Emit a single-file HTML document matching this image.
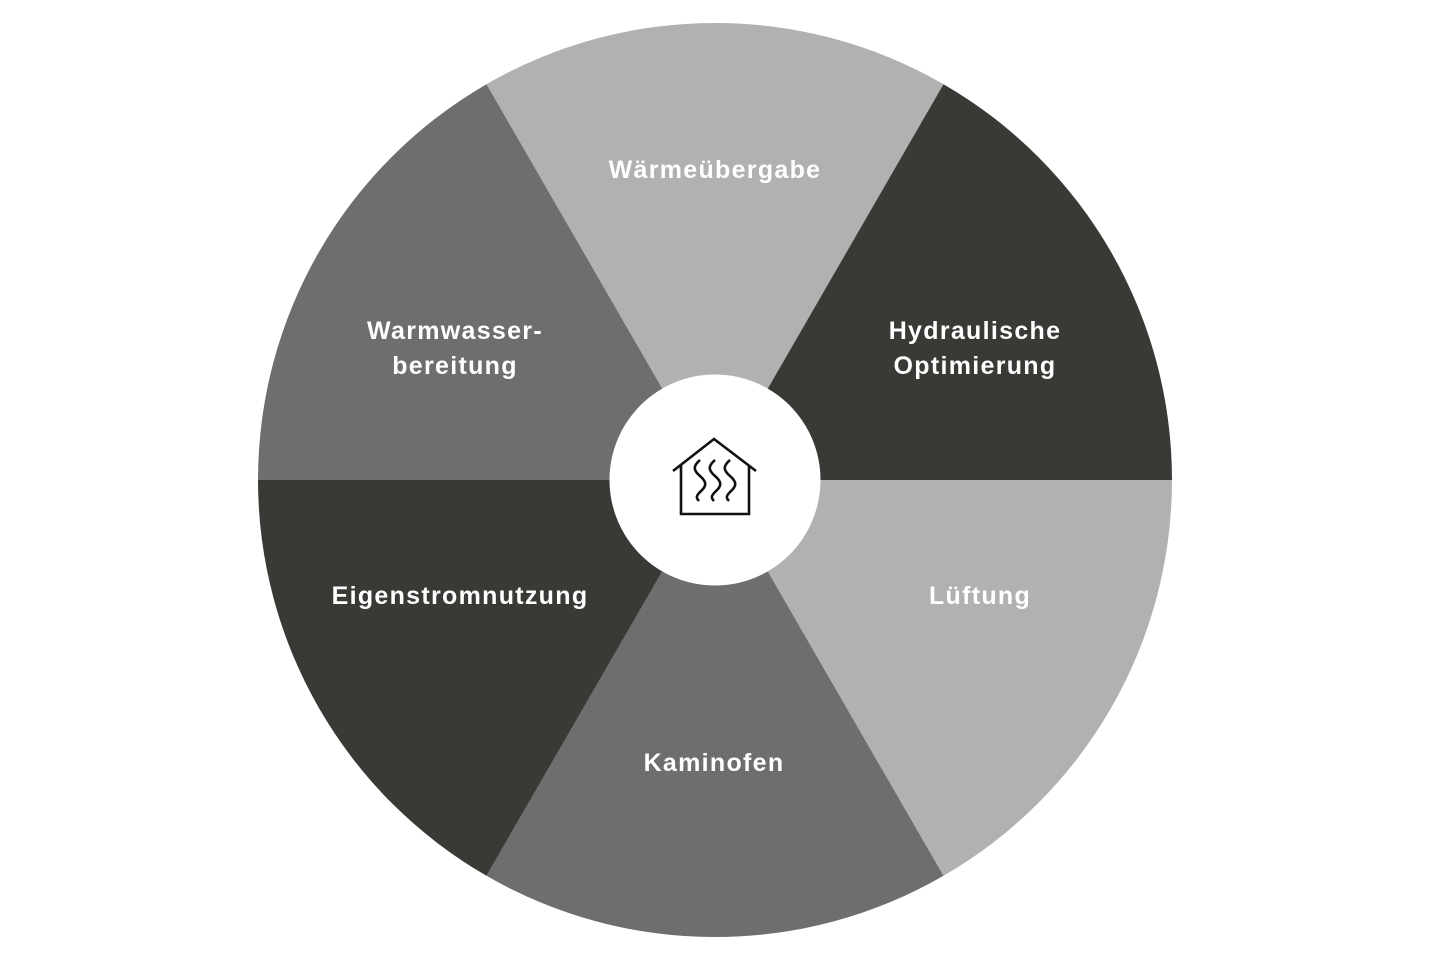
<!DOCTYPE html>
<html>
<head>
<meta charset="utf-8">
<style>
html,body{margin:0;padding:0;background:#fff;}
svg{display:block;}
text{font-family:"Liberation Sans",sans-serif;font-weight:bold;font-size:25px;letter-spacing:1.3px;fill:#fff;text-anchor:middle;}
</style>
</head>
<body>
<svg width="1440" height="960" viewBox="0 0 1440 960" xmlns="http://www.w3.org/2000/svg">
  <path d="M715,480 L486.5,84.2 A457,457 0 0 1 943.5,84.2 Z" fill="#afb2b0"/>
  <path d="M715,480 L943.5,84.2 A457,457 0 0 1 1172,480 Z" fill="#393a35"/>
  <path d="M715,480 L1172,480 A457,457 0 0 1 943.5,875.8 Z" fill="#afb2b0"/>
  <path d="M715,480 L943.5,875.8 A457,457 0 0 1 486.5,875.8 Z" fill="#6c6f6d"/>
  <path d="M715,480 L486.5,875.8 A457,457 0 0 1 258,480 Z" fill="#393a35"/>
  <path d="M715,480 L258,480 A457,457 0 0 1 486.5,84.2 Z" fill="#6c6f6d"/>

  <circle cx="715" cy="480" r="105.5" fill="#fff"/>

  <g fill="none" stroke="#111" stroke-width="2.6" stroke-linejoin="miter">
    <polyline points="673,471 714,439 756,471"/>
    <polyline points="681,465 681,514 749,514 749,465"/>
    <path d="M700,460 c-7,6 -7,10 0,16 c7,6 7,10 0,16 c-4,4 -4,6 -1,9"/>
    <path d="M715,460 c-7,6 -7,10 0,16 c7,6 7,10 0,16 c-4,4 -4,6 -1,9"/>
    <path d="M730,460 c-7,6 -7,10 0,16 c7,6 7,10 0,16 c-4,4 -4,6 -1,9"/>
  </g>

  <text x="715" y="178">Wärmeübergabe</text>
  <text x="975" y="339">Hydraulische</text>
  <text x="975" y="374">Optimierung</text>
  <text x="980" y="604">Lüftung</text>
  <text x="714" y="771">Kaminofen</text>
  <text x="460" y="604">Eigenstromnutzung</text>
  <text x="455" y="339">Warmwasser-</text>
  <text x="455" y="374">bereitung</text>
</svg>
</body>
</html>
